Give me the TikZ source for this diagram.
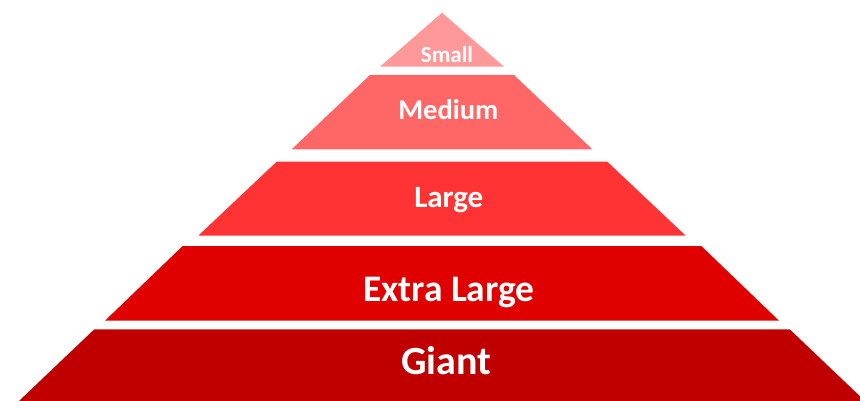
\documentclass[tikz,border=0pt]{standalone}
\usepackage{fontspec}
\setmainfont{Carlito}
\definecolor{stufeA}{HTML}{FF9999}
\definecolor{stufeB}{HTML}{FF6666}
\definecolor{stufeC}{HTML}{FF3333}
\definecolor{stufeD}{HTML}{E00000}
\definecolor{stufeE}{HTML}{C00000}
\begin{document}
\begin{tikzpicture}[x=1pt,y=-1pt]
        \useasboundingbox (0,0) rectangle (860,401);
        \clip (0,0) rectangle (860,401);

        % Stufen
        \fill[stufeA] (442,12.7) -- (504,66.7) -- (380,66.7) -- cycle;
        \fill[stufeB] (370,75) -- (514,75) -- (592.3,149.3) -- (291.7,149.3) -- cycle;
        \fill[stufeC] (276.7,161.7) -- (607.3,161.7) -- (685.7,235.7) -- (198.3,235.7) -- cycle;
        \fill[stufeD] (182.7,246) -- (701.3,246) -- (779,320.7) -- (105,320.7) -- cycle;
        \fill[stufeE] (94.3,329.3) -- (789.7,329.3) -- (865,401) -- (19,401) -- cycle;

        % Beschriftungen
        \begin{scope}[every node/.style={text=white,font=\bfseries,anchor=base,inner sep=0pt}]
            \node (S) at (447,62.3) {\fontsize{23}{23}\selectfont Small};
            \node (M) at (448.3,119.3) {\fontsize{28.5}{28.5}\selectfont Medium};
            \node (L) at (448.8,207.3) {\fontsize{31}{31}\selectfont Large};
            \node (XL) at (448.8,301.3) {\fontsize{37.5}{37.5}\selectfont Extra Large};
            \node (G) at (446.4,374.7) {\fontsize{40}{40}\selectfont Giant};
        \end{scope}
    \end{tikzpicture}
\end{document}
